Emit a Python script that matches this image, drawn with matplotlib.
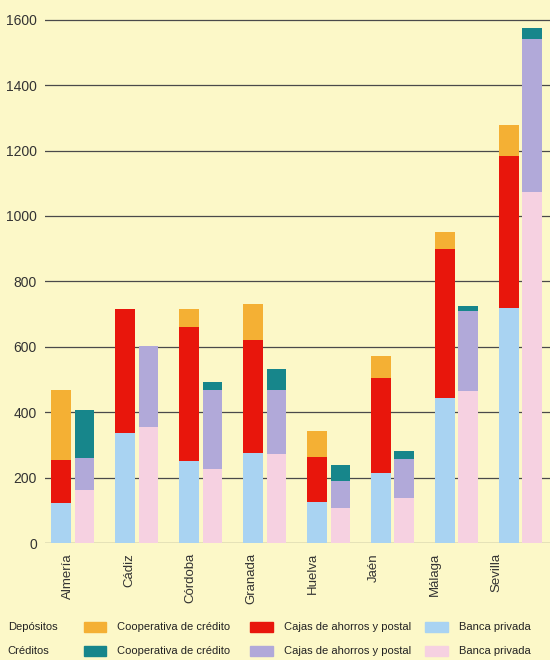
import numpy as np
import matplotlib.pyplot as plt
from matplotlib.patches import Rectangle

provincias = ["Almería", "Cádiz", "Córdoba", "Granada", "Huelva", "Jaén", "Málaga", "Sevilla"]

# Depósitos (acumulados por tipo de entidad)
dep_banca = [123, 338, 252, 277, 126, 213, 443, 720]
dep_cajas = [132, 378, 408, 343, 137, 293, 457, 463]
dep_coop = [214, 0, 56, 111, 79, 65, 50, 96]

# Créditos
cre_banca = [162, 354, 228, 272, 107, 138, 466, 1073]
cre_cajas = [97, 250, 241, 197, 84, 118, 243, 467]
cre_coop = [147, 0, 25, 62, 47, 25, 16, 35]

bg = "#fcf8c8"
c_dep = ["#a9d3f2", "#e8160c", "#f4b034"]
c_cre = ["#f6d1e1", "#b1a9d9", "#17868b"]
fuente = ["Liberation Sans", "DejaVu Sans"]

fig = plt.figure(figsize=(5.5, 6.6), dpi=100, facecolor=bg)
ax = fig.add_axes([0.082, 0.177, 0.918, 0.823], facecolor=bg)

x = np.arange(len(provincias))
w = 0.30
off = 0.18

b = np.zeros(len(x))
for vals, col in zip([dep_banca, dep_cajas, dep_coop], c_dep):
    ax.bar(x - off, vals, w, bottom=b, color=col, zorder=3)
    b += np.array(vals)
b = np.zeros(len(x))
for vals, col in zip([cre_banca, cre_cajas, cre_coop], c_cre):
    ax.bar(x + off, vals, w, bottom=b, color=col, zorder=3)
    b += np.array(vals)

ax.set_xlim(-0.43, 7.46)
ax.set_ylim(0, 1660)
ax.set_yticks(range(0, 1601, 200))
ax.set_yticklabels([str(v) for v in range(0, 1601, 200)], family=fuente)
ax.tick_params(axis="y", length=0, labelsize=10, colors="#333333", pad=6)
ax.grid(axis="y", color="#4a4a4a", linewidth=0.9, zorder=1)
for s in ax.spines.values():
    s.set_visible(False)

ax.set_xticks(x * 0.955 - 0.07)
ax.set_xticklabels(provincias, rotation=90, fontsize=9.5, color="#333333", family=fuente)
ax.tick_params(axis="x", length=0, pad=7)

# leyenda manual
rows = [("Depósitos", c_dep, 0.042), ("Créditos", c_cre, 0.006)]
nombres = ["Cooperativa de crédito", "Cajas de ahorros y postal", "Banca privada"]
cols_x = [0.152, 0.455, 0.773]
for titulo, cols, yy in rows:
    fig.text(0.014, yy + 0.0076, titulo, fontsize=8, color="#222222", va="center", family=fuente)
    for i, (col, nom) in enumerate(zip(cols[::-1], nombres)):
        fig.patches.append(Rectangle((cols_x[i], yy), 0.041, 0.0152, color=col,
                                     transform=fig.transFigure, figure=fig))
        fig.text(cols_x[i] + 0.061, yy + 0.0076, nom, fontsize=8, color="#222222",
                 va="center", family=fuente)

fig.savefig("out.png", dpi=100, facecolor=bg)
